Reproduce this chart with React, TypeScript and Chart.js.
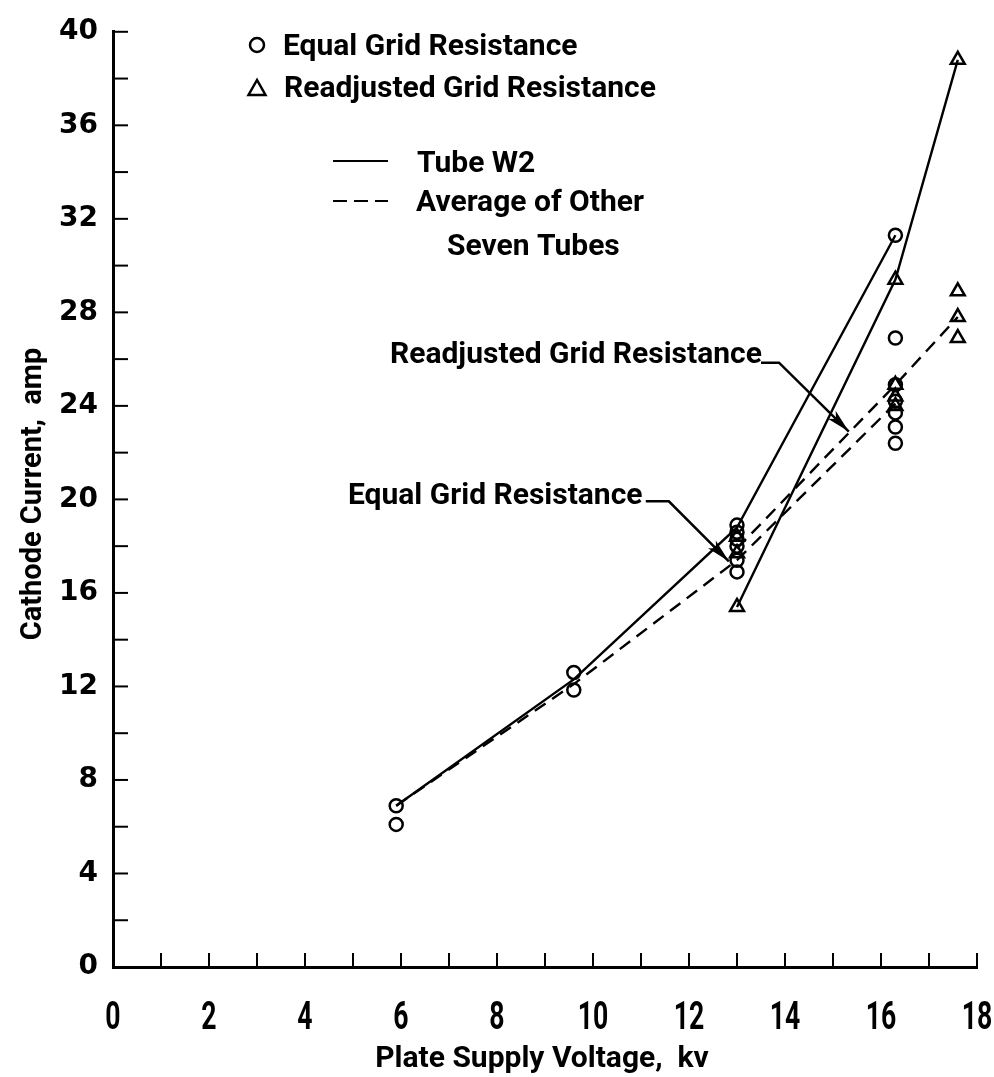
import React, { useEffect, useRef } from 'react';
import { Chart, registerables } from 'chart.js';

Chart.register(...registerables);

// ---- axes ----
const xTickValues = [0, 2, 4, 6, 8, 10, 12, 14, 16, 18];
const yTickValues = [0, 4, 8, 12, 16, 20, 24, 28, 32, 36, 40];
const xTitle = 'Plate Supply Voltage,  kv';
const yTitle = 'Cathode Current,  amp';

// ---- measured points: [kv, amp] ----
const equalGridPoints: [number, number][] = [
  [5.9, 6.9], [5.9, 6.1],
  [9.6, 12.6], [9.6, 11.85],
  [13.0, 18.9], [13.0, 18.6], [13.0, 18.3], [13.0, 18.0], [13.0, 17.4], [13.0, 16.9],
  [16.3, 31.3], [16.3, 26.9], [16.3, 24.9], [16.3, 24.2], [16.3, 23.7], [16.3, 23.1], [16.3, 22.4],
];
const readjustedGridPoints: [number, number][] = [
  [13.0, 15.4], [13.0, 18.4], [13.0, 17.7],
  [16.3, 29.4], [16.3, 24.9], [16.3, 24.4], [16.3, 24.0],
  [17.6, 38.8], [17.6, 28.9], [17.6, 27.8], [17.6, 26.9],
];

// ---- curves ----
const tubeW2Equal: [number, number][] = [[5.9, 6.9], [9.6, 12.3], [13.0, 18.8], [16.3, 31.3]];
const tubeW2Readjusted: [number, number][] = [[13.0, 15.4], [16.3, 29.4], [17.6, 38.8]];
const avgEqual: [number, number][] = [[5.9, 6.9], [9.6, 12.1], [13.0, 17.4], [16.3, 24.1]];
const avgReadjusted: [number, number][] = [[13.0, 17.9], [16.3, 24.9], [17.6, 27.8]];

// ---- annotation leaders (data coords): text end, elbow, arrow tip ----
const equalLeader: [number, number][] = [[11.1, 19.92], [11.58, 19.92], [12.83, 17.35]];
const readjLeader: [number, number][] = [[13.5, 25.85], [13.875, 25.85], [15.33, 22.9]];

const FONT = 'Roboto, "DejaVu Sans", sans-serif';
const DASH = [13, 8];

const toXY = (a: [number, number][]) => a.map(([x, y]) => ({ x, y }));

function text(ctx: CanvasRenderingContext2D, s: string, x: number, y: number, size: number, sx = 1, align: CanvasTextAlign = 'left') {
  ctx.save();
  ctx.font = `bold ${size}px ${FONT}`;
  ctx.translate(x, y);
  ctx.scale(sx, 1);
  ctx.textAlign = align;
  ctx.textBaseline = 'alphabetic';
  ctx.fillStyle = '#000';
  ctx.fillText(s, 0, 0);
  ctx.restore();
}

const overlay = {
  id: 'overlay',
  beforeDatasetsDraw(chart: any) {
    const { ctx, chartArea, scales } = chart;
    const xs = scales.x, ys = scales.y;
    ctx.save();
    ctx.strokeStyle = '#000';
    ctx.lineWidth = 2;
    xs.ticks.forEach((t: any) => {
      if (t.value === 0) return;
      const px = xs.getPixelForValue(t.value);
      ctx.beginPath();
      ctx.moveTo(px, chartArea.bottom);
      ctx.lineTo(px, chartArea.bottom - 14);
      ctx.stroke();
    });
    ys.ticks.forEach((t: any) => {
      if (t.value === 0) return;
      const py = ys.getPixelForValue(t.value);
      ctx.beginPath();
      ctx.moveTo(chartArea.left, py);
      ctx.lineTo(chartArea.left + 15, py);
      ctx.stroke();
    });
    ctx.restore();
  },
  afterDraw(chart: any) {
    const { ctx, scales } = chart;
    const xs = scales.x, ys = scales.y;
    const P = ([a, b]: [number, number]) => [xs.getPixelForValue(a), ys.getPixelForValue(b)];
    ctx.save();
    ctx.strokeStyle = '#000';
    ctx.fillStyle = '#000';

    // x tick labels
    xTickValues.forEach((v) => {
      text(ctx, String(v), xs.getPixelForValue(v), 1029, 38, 0.7, 'center');
    });

    // axis titles
    text(ctx, xTitle, 542, 1067, 30, 1, 'center');
    ctx.save();
    ctx.translate(41, 494);
    ctx.rotate(-Math.PI / 2);
    text(ctx, yTitle, 0, 0, 29, 1, 'center');
    ctx.restore();

    // legend
    ctx.lineWidth = 2.5;
    ctx.beginPath();
    ctx.arc(257, 45, 7, 0, Math.PI * 2);
    ctx.stroke();
    ctx.beginPath();
    ctx.moveTo(257, 80);
    ctx.lineTo(248.5, 95);
    ctx.lineTo(265.5, 95);
    ctx.closePath();
    ctx.stroke();
    text(ctx, 'Equal Grid Resistance', 283, 55, 30);
    text(ctx, 'Readjusted Grid Resistance', 284, 97, 30);
    ctx.lineWidth = 2.2;
    ctx.beginPath();
    ctx.moveTo(333, 161);
    ctx.lineTo(388, 161);
    ctx.stroke();
    ctx.setLineDash([14, 7]);
    ctx.beginPath();
    ctx.moveTo(333, 201);
    ctx.lineTo(388, 201);
    ctx.stroke();
    ctx.setLineDash([]);
    text(ctx, 'Tube W2', 417, 172, 30);
    text(ctx, 'Average of Other', 416, 211, 30);
    text(ctx, 'Seven Tubes', 447, 255, 30);

    // annotations
    text(ctx, 'Readjusted Grid Resistance', 390, 363, 30);
    text(ctx, 'Equal Grid Resistance', 348, 504, 30);
    const leader = (pts: [number, number][]) => {
      const px = pts.map(P);
      ctx.lineWidth = 2.5;
      ctx.beginPath();
      ctx.moveTo(px[0][0], px[0][1]);
      for (let i = 1; i < px.length; i++) ctx.lineTo(px[i][0], px[i][1]);
      ctx.stroke();
      const [tx, ty] = px[px.length - 1];
      const [bx, by] = px[px.length - 2];
      const ang = Math.atan2(ty - by, tx - bx);
      const L = 24, W = 5.5;
      ctx.save();
      ctx.translate(tx, ty);
      ctx.rotate(ang);
      ctx.beginPath();
      ctx.moveTo(0, 0);
      ctx.lineTo(-L, -W);
      ctx.lineTo(-L * 0.75, 0);
      ctx.lineTo(-L, W);
      ctx.closePath();
      ctx.fill();
      ctx.restore();
    };
    leader(equalLeader);
    leader(readjLeader);
    ctx.restore();
  },
};

export default function App() {
  const ref = useRef<HTMLCanvasElement | null>(null);
  useEffect(() => {
    if (!ref.current) return;
    const lineDs = (data: [number, number][], dashed: boolean) => ({
      data: toXY(data),
      showLine: true,
      borderColor: '#000',
      borderWidth: 2.4,
      borderDash: dashed ? DASH : [],
      pointRadius: 0,
      tension: 0,
      fill: false,
      order: 2,
    });
    const chart = new Chart(ref.current, {
      type: 'scatter',
      data: {
        datasets: [
          lineDs(tubeW2Equal, false),
          lineDs(tubeW2Readjusted, false),
          lineDs(avgEqual, true),
          lineDs(avgReadjusted, true),
          {
            data: toXY(equalGridPoints),
            showLine: false,
            pointStyle: 'circle',
            pointRadius: 6.5,
            pointBorderWidth: 2.5,
            pointBorderColor: '#000',
            pointBackgroundColor: 'rgba(255,255,255,0)',
            order: 0,
          },
          {
            data: toXY(readjustedGridPoints),
            showLine: false,
            pointStyle: 'triangle',
            pointRadius: 8,
            pointBorderWidth: 2.5,
            pointBorderColor: '#000',
            pointBackgroundColor: 'rgba(255,255,255,0)',
            order: 0,
          },
        ] as any,
      },
      options: {
        responsive: false,
        animation: false,
        devicePixelRatio: 1,
        clip: false as any,
        layout: { padding: { top: 17, right: 17, left: 0, bottom: 0 } },
        plugins: { legend: { display: false }, tooltip: { enabled: false } },
        scales: {
          x: {
            type: 'linear',
            min: 0,
            max: 18,
            ticks: { stepSize: 1, display: false },
            grid: { display: false, drawTicks: false },
            border: { display: true, color: '#000', width: 3 },
            afterFit: (s: any) => { s.height = 110; },
          },
          y: {
            type: 'linear',
            min: 0,
            max: 40,
            ticks: {
              stepSize: 2,
              padding: 15,
              color: '#000',
              font: { family: '"DejaVu Sans"', weight: 'bold', size: 28 },
              callback: (v: any) => (yTickValues.includes(Number(v)) ? String(v) : ''),
            },
            grid: { display: false, drawTicks: false },
            border: { display: true, color: '#000', width: 3 },
            afterFit: (s: any) => { s.width = 113; },
          },
        } as any,
      },
      plugins: [overlay],
    });
    return () => chart.destroy();
  }, []);
  return (
    <div style={{ position: 'fixed', left: 0, top: 0, width: 994, height: 1077, background: '#fff' }}>
      <canvas ref={ref} width={994} height={1077} style={{ width: 994, height: 1077, display: 'block' }} />
    </div>
  );
}
